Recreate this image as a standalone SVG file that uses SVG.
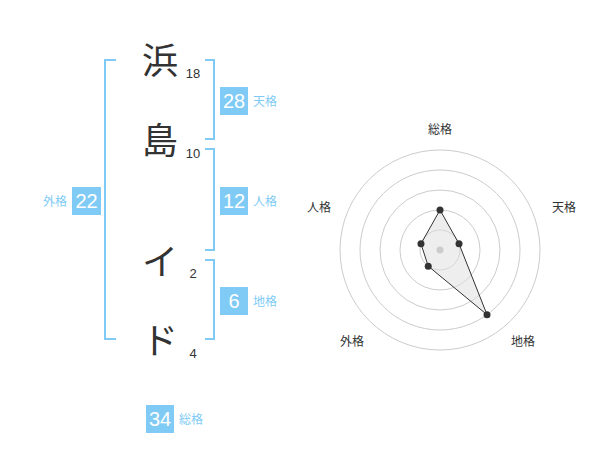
<svg xmlns="http://www.w3.org/2000/svg" width="600" height="470" viewBox="0 0 600 470">
<style>
.ch{font-family:"Noto Sans CJK JP","Noto Sans",sans-serif;font-size:36px;fill:#333}
.num{font-family:"Liberation Sans",Arial,sans-serif;font-size:13px;fill:#333;text-anchor:middle}
.br{fill:none;stroke:#80cbf5;stroke-width:2}
.box{fill:#80cbf5}
.bn{font-family:"Liberation Sans",Arial,sans-serif;font-size:20px;fill:#fff;text-anchor:middle}
.bl{font-family:"Noto Sans CJK JP",sans-serif;font-size:12px;fill:#80cbf5}
.ring{fill:none;stroke:#ccc;stroke-width:1}
.rl{font-family:"Noto Sans CJK JP",sans-serif;font-size:12px;fill:#333;text-anchor:middle}
.pt{fill:#333}
</style>
<rect width="600" height="470" fill="#fff"/>
<g id="name">
<g id="c1"><text class="ch" x="142" y="74">浜</text><text class="num" x="193" y="78">18</text></g>
<g id="c2"><text class="ch" x="142" y="154">島</text><text class="num" x="193" y="158">10</text></g>
<g id="c3"><text class="ch" x="142" y="275">イ</text><text class="num" x="193" y="278">2</text></g>
<g id="c4"><text class="ch" x="142" y="354">ド</text><text class="num" x="193" y="358">4</text></g>
</g>
<g id="connectors">
<path class="br" d="M116 60 H105 V339 H116"/>
<path class="br" d="M205 60 H214 V139 H205"/>
<path class="br" d="M205 149 H214 V250 H205"/>
<path class="br" d="M205 260 H214 V339 H205"/>
</g>
<g id="tenkaku"><rect class="box" x="220" y="87" width="28" height="28"/><text class="bn" x="234" y="108">28</text><text class="bl" x="253" y="106">天格</text></g>
<g id="jinkaku"><rect class="box" x="220" y="187" width="28" height="28"/><text class="bn" x="234" y="208">12</text><text class="bl" x="253" y="206">人格</text></g>
<g id="chikaku"><rect class="box" x="220" y="287" width="28" height="28"/><text class="bn" x="234" y="308">6</text><text class="bl" x="253" y="306">地格</text></g>
<g id="gaikaku"><rect class="box" x="72" y="187" width="29" height="28"/><text class="bn" x="86.5" y="208">22</text><text class="bl" x="67" y="206" text-anchor="end">外格</text></g>
<g id="soukaku"><rect class="box" x="146" y="405" width="28" height="28"/><text class="bn" x="160" y="426">34</text><text class="bl" x="179" y="424">総格</text></g>
<g id="radar">
<circle class="ring" cx="440" cy="250" r="20"/>
<circle class="ring" cx="440" cy="250" r="40"/>
<circle class="ring" cx="440" cy="250" r="60"/>
<circle class="ring" cx="440" cy="250" r="80"/>
<circle class="ring" cx="440" cy="250" r="100"/>
<polygon points="440,210 459.02,243.82 487.02,314.72 428.24,266.18 420.98,243.82" fill="#ddd" fill-opacity="0.5" stroke="#333" stroke-width="1"/>
<circle cx="440" cy="250" r="3.5" fill="#ccc"/>
<circle class="pt" cx="440" cy="210" r="3.5"/>
<circle class="pt" cx="459.02" cy="243.82" r="3.5"/>
<circle class="pt" cx="487.02" cy="314.72" r="3.5"/>
<circle class="pt" cx="428.24" cy="266.18" r="3.5"/>
<circle class="pt" cx="420.98" cy="243.82" r="3.5"/>
<text class="rl" x="440" y="134">総格</text>
<text class="rl" x="564" y="212">天格</text>
<text class="rl" x="523" y="346">地格</text>
<text class="rl" x="352" y="346">外格</text>
<text class="rl" x="319" y="212">人格</text>
</g>
</svg>
